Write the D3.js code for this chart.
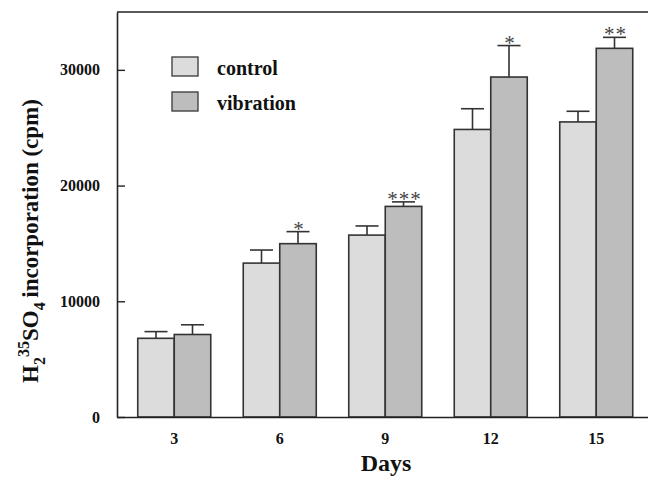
<!DOCTYPE html>
<html>
<head>
<meta charset="utf-8">
<script src="https://cdn.jsdelivr.net/npm/d3@7"></script>
<style>
  html, body { margin: 0; padding: 0; background: #fff; }
  svg text { font-family: "Liberation Serif", "Times New Roman", serif; font-weight: bold; fill: #111; }
</style>
</head>
<body>
<svg id="chart" width="648" height="478"></svg>
<script>
const days = ["3", "6", "9", "12", "15"];
const series = ["control", "vibration"];
const controlValues = [6800, 13300, 15720, 24850, 25500];
const controlErrors = [580, 1130, 790, 1790, 920];
const vibrationValues = [7130, 14980, 18200, 29380, 31860];
const vibrationErrors = [840, 1040, 390, 2720, 950];
const significance = ["", "*", "***", "*", "**"];
const yTicks = [0, 10000, 20000, 30000];
const colors = { control: "#dcdcdc", vibration: "#bdbdbd" };

(function () {
const svg = d3.select("#chart");
const pLeft = 117, pTop = 12, pBottom = 417, pRight = 648;

const y = d3.scaleLinear().domain([0, 35000]).range([pBottom, pTop]);
const x = d3.scaleBand().domain(days).range([121.5, 649]).paddingInner(0.308).paddingOuter(0.154);
const xs = d3.scaleBand().domain(series).range([0, x.bandwidth()]);

const data = [];
days.forEach((d, i) => {
  data.push({ day: d, s: "control", v: controlValues[i], e: controlErrors[i] });
  data.push({ day: d, s: "vibration", v: vibrationValues[i], e: vibrationErrors[i] });
});

// error bars (upper only)
const capW = 23;
const eb = svg.append("g").attr("stroke", "#333").attr("stroke-width", 1.6);
data.forEach(d => {
  const cx = x(d.day) + xs(d.s) + xs.bandwidth() / 2;
  eb.append("line").attr("x1", cx).attr("x2", cx).attr("y1", y(d.v)).attr("y2", y(d.v + d.e));
  eb.append("line").attr("x1", cx - capW / 2).attr("x2", cx + capW / 2).attr("y1", y(d.v + d.e)).attr("y2", y(d.v + d.e));
});

// bars
svg.append("g").selectAll("rect").data(data).join("rect")
  .attr("x", d => x(d.day) + xs(d.s))
  .attr("y", d => y(d.v))
  .attr("width", xs.bandwidth())
  .attr("height", d => y(0) - y(d.v))
  .attr("fill", d => colors[d.s])
  .attr("stroke", "#333")
  .attr("stroke-width", 1.6);

// significance stars
svg.append("g").selectAll("text").data(days).join("text")
  .attr("x", (d, i) => x(d) + xs("vibration") + xs.bandwidth() / 2 + 1)
  .attr("y", (d, i) => y(vibrationValues[i] + vibrationErrors[i]) + 4)
  .attr("text-anchor", "middle")
  .style("font-size", "21px")
  .style("font-weight", "normal")
  .style("letter-spacing", "1px")
  .style("fill", "#444")
  .text((d, i) => significance[i]);

// frame top line
svg.append("line").attr("x1", pLeft).attr("x2", pRight).attr("y1", pTop).attr("y2", pTop)
  .attr("stroke", "#222").attr("stroke-width", 1.6);

// y axis
const yAxis = svg.append("g").attr("transform", `translate(${pLeft},0)`)
  .call(d3.axisLeft(y).tickValues(yTicks).tickFormat(d3.format("d")).tickSizeInner(-8).tickSizeOuter(0).tickPadding(17));
yAxis.select(".domain").attr("stroke", "#222").attr("stroke-width", 1.6);
yAxis.selectAll(".tick line").attr("stroke", "#222").attr("stroke-width", 1.4);
yAxis.selectAll("text").style("font-size", "16px").style("font-family", "Liberation Serif").style("font-weight", "bold").attr("fill", "#111");

// x axis
const xAxis = svg.append("g").attr("transform", `translate(0,${pBottom})`)
  .call(d3.axisBottom(x).tickSize(0).tickPadding(16));
xAxis.select(".domain").attr("d", `M${pLeft},0.5H${pRight}`).attr("stroke", "#222").attr("stroke-width", 1.6);
xAxis.selectAll("text").style("font-size", "16px").style("font-family", "Liberation Serif").style("font-weight", "bold").attr("fill", "#111");

// axis titles
svg.append("text").attr("x", 386).attr("y", 471).attr("text-anchor", "middle")
  .style("font-size", "24px").text("Days");

const yl = svg.append("text").attr("transform", "translate(38,241) rotate(-90)").attr("text-anchor", "middle")
  .style("font-size", "23px");
yl.append("tspan").text("H");
yl.append("tspan").attr("dy", 7).style("font-size", "16px").text("2");
yl.append("tspan").attr("dy", -16).style("font-size", "16px").text("35");
yl.append("tspan").attr("dy", 9).text("SO");
yl.append("tspan").attr("dy", 7).style("font-size", "16px").text("4");
yl.append("tspan").attr("dy", -7).text("\u2009incorporation (cpm)");

// legend
const lg = svg.append("g");
series.forEach((s, i) => {
  const gy = 57 + i * 35;
  lg.append("rect").attr("x", 172).attr("y", gy).attr("width", 26).attr("height", 19)
    .attr("fill", colors[s]).attr("stroke", "#444").attr("stroke-width", 1.4);
  lg.append("text").attr("x", 217).attr("y", gy + 18).style("font-size", "20px").text(s);
});
})();
</script>
</body>
</html>
